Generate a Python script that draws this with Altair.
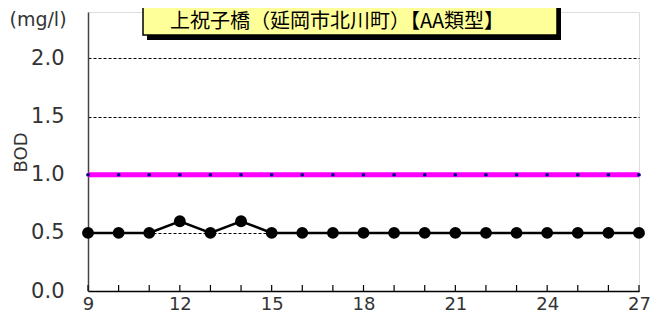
import altair as alt
import pandas as pd

# ---- data ----
days = list(range(9, 28))
bod = [0.5, 0.5, 0.5, 0.6, 0.5, 0.6, 0.5, 0.5, 0.5, 0.5,
       0.5, 0.5, 0.5, 0.5, 0.5, 0.5, 0.5, 0.5, 0.5]
standard = [1.0] * len(days)
y_ticks = [0.0, 0.5, 1.0, 1.5, 2.0]
title_text = "上祝子橋（延岡市北川町）【AA類型】"
unit_text = "(mg/l)"

df = pd.DataFrame({"day": days, "bod": bod, "std": standard})

FONT = "DejaVu Sans"
W, H = 551, 279

xs = alt.Scale(domain=[9, 27], nice=False, zero=False)
ys = alt.Scale(domain=[0, 2.4], nice=False)

base = alt.Chart(df)

x_axis = alt.Axis(values=days, labelExpr="(datum.value - 9) % 3 == 0 ? datum.label : ''",
                  labelOverlap=False, labelFlush=False,
                  ticks=False, grid=False, domainColor="#000", domainWidth=1.5,
                  labelFontSize=18, labelPadding=4, labelColor="#333", title=None,
                  labelFont=FONT)
y_axis = alt.Axis(values=y_ticks, format=".1f", ticks=False, grid=True,
                  gridDash=[3, 2], gridColor="#000", gridWidth=1,
                  domainColor="#444", domainWidth=1.5, labelOverlap=False,
                  labelFontSize=21, labelPadding=24, labelColor="#333", labelFont=FONT,
                  title="BOD", titleFontSize=18, titleFontWeight="normal", titleColor="#333",
                  titleFont=FONT, titleX=-67, titleY=140, titleAngle=270,
                  titleAlign="center", titleBaseline="middle")

X = alt.X("day:Q", scale=xs, axis=x_axis)

std_line = base.mark_line(color="#FF00FF", strokeWidth=5).encode(
    x=X, y=alt.Y("std:Q", scale=ys, axis=y_axis))
std_pts = base.mark_point(filled=True, color="#000080", size=14, opacity=1).encode(
    x=X, y=alt.Y("std:Q", scale=ys, axis=y_axis))

bod_line = base.mark_line(color="#000", strokeWidth=2.5).encode(
    x=X, y=alt.Y("bod:Q", scale=ys, axis=y_axis))
bod_pts = base.mark_point(filled=True, color="#000", size=140, opacity=1).encode(
    x=X, y=alt.Y("bod:Q", scale=ys, axis=y_axis))

ticks = base.mark_tick(color="#000", thickness=1.2, size=6, opacity=1).encode(
    x=X, y=alt.value(H - 3))

tdf = pd.DataFrame({"t": [title_text]})
shadow = alt.Chart(tdf).mark_rect(color="#000").encode(
    x=alt.value(59), x2=alt.value(473), y=alt.value(-20), y2=alt.value(28))
box = alt.Chart(tdf).mark_rect(fill="#FFFF99", stroke="#000", strokeWidth=1.5).encode(
    x=alt.value(55), x2=alt.value(469), y=alt.value(-20), y2=alt.value(23))
title = alt.Chart(tdf).mark_text(font="Noto Sans CJK JP", fontSize=20, color="#000",
                                 align="center", baseline="middle").encode(
    x=alt.value(249), y=alt.value(10), text="t:N")

udf = pd.DataFrame({"u": [unit_text]})
unit = alt.Chart(udf).mark_text(font=FONT, fontSize=19, color="#333",
                                align="center", baseline="middle").encode(
    x=alt.value(-50), y=alt.value(8), text="u:N")

chart = alt.layer(std_line, std_pts, bod_line, bod_pts, ticks, shadow, box, title, unit).properties(
    width=W, height=H,
    autosize=alt.AutoSizeParams(type="none"),
    padding={"left": 80, "top": 4, "right": 12, "bottom": 22},
).configure_view(stroke=None).configure(font=FONT)

chart.save("out.html", embed_options={"renderer": "svg", "actions": False})
